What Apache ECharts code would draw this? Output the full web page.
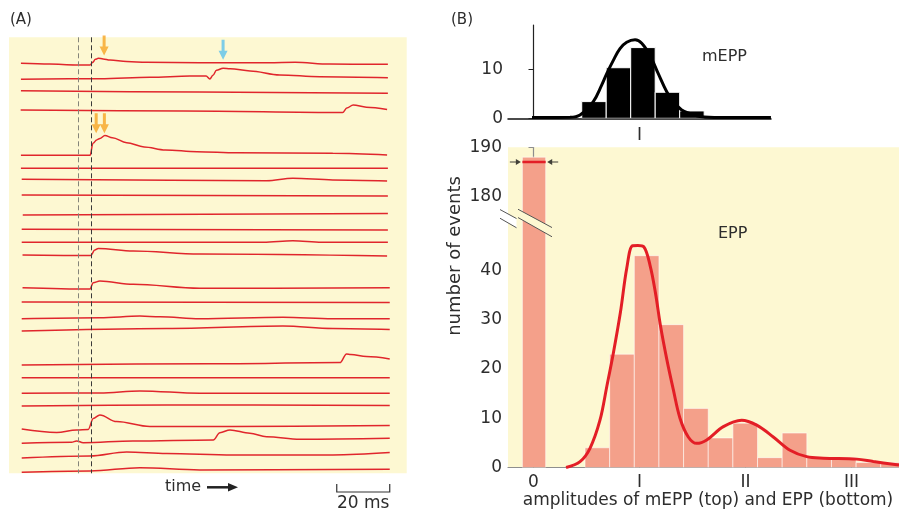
<!DOCTYPE html>
<html>
<head>
<meta charset="utf-8">
<script src="https://cdn.jsdelivr.net/npm/echarts@6.0.0/dist/echarts.min.js"></script>
<style>
  html, body { margin: 0; padding: 0; background: #ffffff; }
  #chart { width: 899px; height: 512px; }
</style>
</head>
<body>
<div id="chart"></div>
<script>
// ---------- Panel A: 24 intracellular sweeps, time in ms (stimulus at 0) ----------
// each sweep: [time ms, deflection from its own resting level, mV]
const sweep01 = [[-21.5,0],[-10.6,-0.04],[-1,-0.08],[4.6,-0.09],[5.6,0.05],[6.6,0.2],[7.7,0.25],[9.5,0.22],[12.1,0.16],[18.4,0.09],[25.9,0.05],[46,0.03],[72,0.03],[82,0.05],[95,-0.04],[117,-0.05]];
const sweep02 = [[-21.5,0],[8.3,0.03],[27.2,0.1],[42.3,0.16],[48.4,0.16],[49.8,0.02],[51,0.2],[52.3,0.45],[54.8,0.55],[57.5,0.53],[65,0.42],[76.2,0.22],[91.3,0.13],[117,0.08]];
const sweep03 = [[-21.5,0],[46,-0.07],[117,-0.13]];
const sweep04 = [[-21.6,0],[40,-0.05],[99.9,-0.13],[101.5,0.1],[103.9,0.25],[108.9,0.14],[116.7,0.03]];
const sweep05 = [[-21.5,0],[4.6,0],[5.7,0.6],[7.1,0.77],[8.3,0.84],[10.2,0.99],[13,0.88],[18.4,0.63],[25,0.42],[33,0.27],[45,0.18],[60,0.13],[96.2,0.1],[116.7,0.02]];
const sweep06 = [[-21.5,0],[117,0]];
const sweep07 = [[-21.2,0],[71.2,-0.07],[81.1,0.05],[96.2,-0.03],[116.7,-0.08]];
const sweep08 = [[-21.2,0],[117,-0.05]];
const sweep09 = [[-20.8,0],[117,0.07]];
const sweep10 = [[-21.2,0],[117,-0.03]];
const sweep11 = [[-21.2,0],[70,0],[81.1,0.08],[92,0],[117,0]];
const sweep12 = [[-20.9,0],[4.8,-0.03],[6.4,0.25],[7.7,0.33],[20.9,0.2],[46,0.05],[116.7,-0.05]];
const sweep13 = [[-20.9,0],[4.5,-0.07],[5.8,0.25],[8.3,0.33],[20.9,0.17],[46,-0.03],[117.7,0]];
const sweep14 = [[-21.2,0],[117.7,-0.02]];
const sweep15 = [[-21.2,0],[8.3,0.05],[23.4,0.13],[31,0.1],[46,0],[77.4,0.07],[96.2,0],[117.7,0]];
const sweep16 = [[-21.2,0],[33.5,0.13],[77.4,0.25],[96.2,0.13],[117.7,0.08]];
const sweep17 = [[-21.2,0],[50,0.06],[98.9,0.12],[101.4,0.55],[103,0.53],[108.9,0.42],[117.7,0.3]];
const sweep18 = [[-21.2,0],[117.7,0]];
const sweep19 = [[-21.2,0],[8.3,0.02],[23.4,0.12],[46,0],[117.7,0]];
const sweep20 = [[-21.2,0],[33.5,0.05],[117.7,0.03]];
const sweep21 = [[-21.2,0],[-8,-0.17],[-0.5,-0.05],[3.9,-0.02],[5.8,0.53],[8.3,0.7],[14.6,0.37],[27.2,0.12],[58.5,0.12],[117.7,0.18]];
const sweep22 = [[-21.2,0],[-2.4,0.05],[-0.5,0.12],[2,0.03],[20.8,0.12],[51.1,0.17],[53.6,0.53],[57.4,0.67],[64.9,0.5],[71.2,0.33],[83.8,0.2],[117.7,0.25]];
const sweep23 = [[-21.2,0],[4.5,0.1],[18.4,0.3],[33.5,0.23],[58.5,0.15],[96.2,0.15],[117.7,0.27]];
const sweep24 = [[-21.2,0],[4.5,0.07],[23.4,0.23],[46,0.12],[117.7,0.15]];

// stimulus time and start of the synaptic response (dashed guides)
const markerTimes = [0, 5.1];
// arrows flagging responses: [time ms, level on the sweep stack, kind]
const eventArrows = [[9.9, 0.41, 'evoked'], [54.8, 0.62, 'spontaneous'], [6.9, 4.3, 'evoked'], [10.0, 4.3, 'evoked']];
const scaleBarMs = 20;

// ---------- Panel B: amplitude histograms (amplitude in quantal units) ----------
const mEppEdges  = [0.455, 0.686, 0.917, 1.148, 1.379, 1.61];
const mEppCounts = [3.4, 10.3, 14.4, 5.3, 1.5];
const mEppFit = [[-0.014,0.16],[0.344,0.2],[0.439,0.67],[0.564,3.4],[0.643,6.75],[0.691,9.1],[0.753,11.8],[0.816,14.2],[0.879,15.5],[0.958,16.0],[1.021,15.3],[1.099,12.8],[1.177,9.1],[1.257,5.4],[1.319,3.4],[1.398,1.7],[1.476,1.0],[1.571,0.37],[1.76,0.16],[2.24,0.16]];

const failureBin = [-0.105, 0.115];
const failureCount = 188;
const predictedFailures = 187;
const eppEdges  = [0.486, 0.7185, 0.951, 1.1835, 1.416, 1.6485, 1.881, 2.1135, 2.346, 2.5785, 2.811, 3.0435, 3.276, 3.5085];
const eppCounts = [4, 23, 43, 29, 12, 6, 9, 2, 7, 2, 2, 1, 1];
const eppFit = [[0.307,0],[0.439,1.2],[0.533,3.9],[0.627,9.6],[0.691,16.4],[0.753,23.2],[0.82,31.5],[0.88,40.5],[0.935,45.4],[0.985,46.1],[1.04,44.8],[1.1,41],[1.15,35.5],[1.2,28.5],[1.257,22],[1.319,15.8],[1.382,10],[1.46,6.2],[1.54,4.9],[1.634,5.6],[1.791,8.3],[1.964,9.6],[2.106,8.6],[2.262,6.2],[2.42,3.5],[2.577,2.2],[2.734,1.9],[3.049,1.7],[3.206,1.2],[3.448,0.5]];

const quantaTicks  = [0, 1, 2, 3];
const quantaLabels = ['0', 'I', 'II', 'III'];
const mEppCountTicks = [0, 10];
const eppCountTicks = [0, 10, 20, 30, 40, 180, 190];
const axisBreak = { start: 45, end: 175, gap: 5 };

// ---------- layout / style ----------
const FONT = '"DejaVu Sans", sans-serif';
const INK = '#2d2d2d';
const PAPER = '#fdf8d2';
const TRACE_RED = '#e0262c';
const FIT_RED = '#e31e26';
const BAR_SALMON = '#f4a08a';
const ORANGE = '#f6a423';
const SKY = '#5cc2ec';
const AXIS_GREY = '#8e8e8e';

// vertical resting level of each sweep in the stack (mV units of the stacked axis)
const sweepOffsets = [1.30, 2.10, 2.67, 3.635, 5.90, 6.55, 7.10, 7.885, 8.885, 9.60, 10.25, 10.885, 12.52, 13.235, 14.07, 14.685, 16.385, 17.02, 17.80, 18.435, 19.585, 20.30, 21.035, 21.75];
const sweeps = [sweep01, sweep02, sweep03, sweep04, sweep05, sweep06, sweep07, sweep08, sweep09, sweep10, sweep11, sweep12,
                sweep13, sweep14, sweep15, sweep16, sweep17, sweep18, sweep19, sweep20, sweep21, sweep22, sweep23, sweep24];

const downArrow  = 'path://M3,0 L6,0 L6,11 L9,11 L4.5,20 L0,11 L3,11 Z';
const rightArrow = 'path://M0,2.5 L6,2.5 L6,0 L11,3 L6,6 L6,3.5 L0,3.5 Z';
const leftArrow  = 'path://M11,2.5 L5,2.5 L5,0 L0,3 L5,6 L5,3.5 L11,3.5 Z';

const labelText = (size) => ({ fontFamily: FONT, fontSize: size, color: INK });

function binSeries(axisIndex, edges, counts, fill, stroke, z) {
  return {
    type: 'custom', xAxisIndex: axisIndex, yAxisIndex: axisIndex, clip: true, z: z, silent: true,
    data: counts.map((c, i) => [edges[i], edges[i + 1], c]),
    encode: { x: [0, 1], y: 2 },
    renderItem: (params, api) => {
      const tl = api.coord([api.value(0), api.value(2)]);
      const br = api.coord([api.value(1), 0]);
      return {
        type: 'rect',
        shape: { x: tl[0], y: tl[1], width: br[0] - tl[0], height: br[1] - tl[1] },
        style: { fill: fill, stroke: stroke, lineWidth: 1 }
      };
    }
  };
}

const traceSeries = sweeps.map((pts, i) => ({
  type: 'line', xAxisIndex: 0, yAxisIndex: 0, silent: true, clip: false, z: 3,
  data: pts.map(([t, v]) => [t, sweepOffsets[i] - v]),
  smooth: 0.35, smoothMonotone: 'x', symbol: 'none',
  lineStyle: { color: TRACE_RED, width: 1.5 },
  markLine: i === 0 ? {
    silent: true, symbol: 'none', label: { show: false },
    data: [
      { xAxis: markerTimes[0], lineStyle: { color: '#85857a', width: 1, type: [5, 3] } },
      { xAxis: markerTimes[1], lineStyle: { color: '#3a3a3a', width: 1, type: [5, 3] } }
    ]
  } : undefined
}));

const chart = echarts.init(document.getElementById('chart'), null, { renderer: 'canvas' });

chart.setOption({
  animation: false,
  backgroundColor: '#ffffff',
  grid: [
    { left: 9, top: 37.3, width: 397.7, height: 436, show: true, backgroundColor: PAPER, borderWidth: 0, containLabel: false, outerBoundsMode: 'none' },
    { left: 508, top: 25, width: 263, height: 93.3, containLabel: false, outerBoundsMode: 'none' },
    { left: 508, top: 147.3, width: 391, height: 320.2, show: true, backgroundColor: PAPER, borderWidth: 0, containLabel: false, outerBoundsMode: 'none' }
  ],
  xAxis: [
    { type: 'value', gridIndex: 0, min: -26, max: 124.1, show: false },
    { type: 'value', gridIndex: 1, min: -0.2406, max: 2.2406,
      axisLine: { show: true, onZero: false, lineStyle: { color: '#111', width: 1.5 } },
      axisTick: { show: false }, splitLine: { show: false },
      axisLabel: { ...labelText(17), margin: 9, customValues: [quantaTicks[1]], formatter: v => quantaLabels[quantaTicks.indexOf(v)] } },
    { type: 'value', gridIndex: 2, min: -0.2406, max: 3.448,
      axisLine: { show: true, onZero: false, lineStyle: { color: AXIS_GREY, width: 1.2 } },
      axisTick: { show: true, inside: true, length: 9, customValues: quantaTicks, lineStyle: { color: '#666', width: 1 } },
      splitLine: { show: false },
      axisLabel: { ...labelText(17), margin: 7, customValues: quantaTicks, formatter: v => quantaLabels[quantaTicks.indexOf(v)] } }
  ],
  yAxis: [
    { type: 'value', gridIndex: 0, min: 0, max: 21.8, inverse: true, show: false },
    { type: 'value', gridIndex: 1, min: 0, max: 19,
      axisLine: { show: true, lineStyle: { color: '#222', width: 1.2 } },
      axisTick: { show: true, length: 5, customValues: mEppCountTicks, lineStyle: { color: '#222' } },
      splitLine: { show: false },
      axisLabel: { ...labelText(17), margin: 5, customValues: mEppCountTicks } },
    { type: 'value', gridIndex: 2, min: 0, max: 190, interval: 10,
      breaks: [axisBreak],
      breakArea: { show: false },
      axisLine: { show: true, lineStyle: { color: AXIS_GREY, width: 1.2 } },
      axisTick: { show: true, length: 5, customValues: eppCountTicks, lineStyle: { color: AXIS_GREY } },
      splitLine: { show: false },
      axisLabel: { ...labelText(17), margin: 6, customValues: eppCountTicks, hideOverlap: false } }
  ],
  series: [
    ...traceSeries,
    {
      type: 'scatter', xAxisIndex: 0, yAxisIndex: 0, silent: true, z: 5,
      symbol: downArrow, symbolSize: [9, 20],
      data: eventArrows.map(([t, level, kind]) => ({ value: [t, level], itemStyle: { color: kind === 'evoked' ? ORANGE : SKY } }))
    },
    // mEPP histogram and fit
    binSeries(1, mEppEdges, mEppCounts, '#000000', '#ffffff', 2),
    { type: 'line', xAxisIndex: 1, yAxisIndex: 1, silent: true, z: 4, data: mEppFit,
      smooth: 0.4, symbol: 'none', lineStyle: { color: '#000', width: 3 } },
    // EPP histogram, failures and fit
    binSeries(2, failureBin, [failureCount], BAR_SALMON, 'rgba(255,255,255,0.55)', 2),
    binSeries(2, eppEdges, eppCounts, BAR_SALMON, 'rgba(255,255,255,0.55)', 2),
    { type: 'line', xAxisIndex: 2, yAxisIndex: 2, silent: true, z: 6,
      data: failureBin.map(x => [x, predictedFailures]),
      symbol: 'none', lineStyle: { color: FIT_RED, width: 2.5 } },
    { type: 'scatter', xAxisIndex: 2, yAxisIndex: 2, silent: true, z: 6,
      data: [
        { value: [failureBin[0], predictedFailures], symbol: rightArrow, symbolOffset: [-7, 0] },
        { value: [failureBin[1], predictedFailures], symbol: leftArrow, symbolOffset: [7, 0] }
      ],
      symbolSize: [11, 6], itemStyle: { color: '#111' } },
    { type: 'line', xAxisIndex: 2, yAxisIndex: 2, silent: true, z: 5, data: eppFit,
      smooth: 0.35, symbol: 'none', lineStyle: { color: FIT_RED, width: 3 } }
  ]
});

// ---------- annotations placed from the axes ----------
const px = (gridIndex, x, y) => chart.convertToPixel({ gridIndex: gridIndex }, [x, y]);
const barEnd = px(0, 117.7, 0)[0];
const barStart = px(0, 117.7 - scaleBarMs, 0)[0];
const y180 = px(2, 0, 180)[1];
const axisX = px(2, -0.2406, 0)[0];

function txt(x, y, text, size, opts) {
  return Object.assign({ type: 'text', x: x, y: y, silent: true, z: 20,
    style: { text: text, font: size + 'px ' + FONT, fill: INK, align: 'left', verticalAlign: 'middle' } }, opts || {});
}
function brk(x0, x1, top0, top1, bot0, bot1, fill) {
  return [
    { type: 'polygon', silent: true, z: 30, shape: { points: [[x0, top0], [x1, top1], [x1, bot1], [x0, bot0]] }, style: { fill: fill } },
    { type: 'line', silent: true, z: 31, shape: { x1: x0, y1: top0, x2: x1, y2: top1 }, style: { stroke: '#555', lineWidth: 1 } },
    { type: 'line', silent: true, z: 31, shape: { x1: x0, y1: bot0, x2: x1, y2: bot1 }, style: { stroke: '#555', lineWidth: 1 } }
  ];
}

const graphics = [
  txt(10, 20, '(A)', 15),
  txt(451, 20, '(B)', 15),
  txt(702, 57, 'mEPP', 16),
  txt(718, 234, 'EPP', 16),
  { type: 'text', x: 455, y: 256, rotation: Math.PI / 2, silent: true, z: 20,
    style: { text: 'number of events', font: '18px ' + FONT, fill: INK, align: 'center', verticalAlign: 'middle' } },
  { type: 'text', x: 708, y: 501, silent: true, z: 20,
    style: { text: 'amplitudes of mEPP (top) and EPP (bottom)', font: '17px ' + FONT, fill: INK, align: 'center', verticalAlign: 'middle' } },
  txt(165, 487, 'time', 16),
  { type: 'line', silent: true, z: 20, shape: { x1: 207, y1: 487.3, x2: 230, y2: 487.3 }, style: { stroke: '#222', lineWidth: 2.5 } },
  { type: 'polygon', silent: true, z: 20, shape: { points: [[228, 483], [238, 487.3], [228, 491.6]] }, style: { fill: '#222' } },
  { type: 'polyline', silent: true, z: 20, shape: { points: [[barStart, 484], [barStart, 492], [barEnd, 492], [barEnd, 484]] }, style: { stroke: '#333', lineWidth: 1.2, fill: null } },
  { type: 'text', x: (barStart + barEnd) / 2, y: 504, silent: true, z: 20,
    style: { text: scaleBarMs + ' ms', font: '17px ' + FONT, fill: INK, align: 'center', verticalAlign: 'middle' } },
  ...brk(axisX - 8, axisX + 8.5, y180 + 13, y180 + 22, y180 + 21.7, y180 + 31.2, '#ffffff'),
  ...brk(axisX + 10, axisX + 44, y180 + 12.7, y180 + 31, y180 + 21, y180 + 40.2, PAPER)
];
chart.setOption({ graphic: graphics });
</script>
</body>
</html>
